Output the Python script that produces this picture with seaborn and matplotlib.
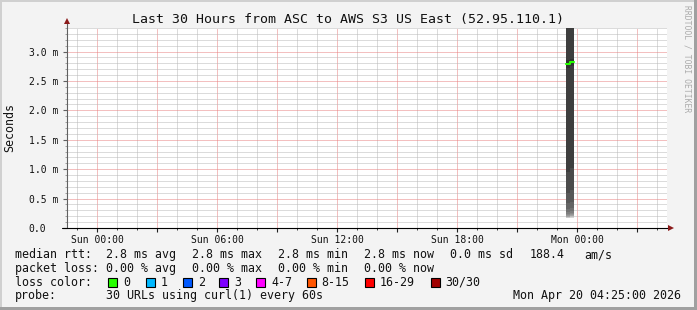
import matplotlib
matplotlib.use("Agg")
import matplotlib.pyplot as plt
import matplotlib.dates as mdates
from matplotlib.ticker import MultipleLocator, FuncFormatter
from matplotlib.patches import Rectangle
import pandas as pd
import seaborn as sns

# ---------------- data ----------------
title = "Last 30 Hours from ASC to AWS S3 US East (52.95.110.1)"
y_label = "Seconds"
watermark = "RRDTOOL / TOBI OETIKER"
x_start = "2026-04-18 22:30"
x_end = "2026-04-20 04:30"
y_max_ms = 3.4

step_starts = ["2026-04-19 23:27", "2026-04-19 23:39"]
step_minutes = 12
median_ms = [2.79, 2.82]
loss_count = [0, 0]

# sorted ping round-trip times (ms) for each consolidated step, 30 pings each
pings_step1 = [0.170, 0.172, 0.175, 0.180, 0.186, 0.195, 0.206, 0.222, 0.243, 0.272,
               0.322, 0.420, 0.600, 0.950, 2.720, 2.860, 3.900, 4.600, 5.500, 6.800,
               8.500, 11.0, 15.0, 21.0, 30.0, 45.0, 70.0, 110.0, 180.0, 300.0]
pings_step2 = [0.175, 0.178, 0.182, 0.188, 0.196, 0.206, 0.218, 0.235, 0.258, 0.290,
               0.345, 0.450, 0.640, 1.020, 2.760, 2.880, 4.100, 4.900, 5.800, 7.100,
               9.000, 12.0, 16.0, 23.0, 33.0, 50.0, 75.0, 120.0, 190.0, 320.0]

rtt_stats = [("avg", 2.8), ("max", 2.8), ("min", 2.8), ("now", 2.8)]
rtt_sd = 0.0
rtt_am_s = 188.4
loss_stats = [("avg", 0.00), ("max", 0.00), ("min", 0.00), ("now", 0.00)]
loss_labels = ["0", "1", "2", "3", "4-7", "8-15", "16-29", "30/30"]
loss_colors = ["#26ff00", "#00b8ff", "#0059ff", "#7e00ff", "#ff00ff", "#ff5500", "#ff0000", "#a10000"]
probe_text = "30 URLs using curl(1) every 60s"
stamp_text = "Mon Apr 20 04:25:00 2026"

# ---------------- figure ----------------
W, H = 697, 310
sns.set_theme(style="white")
plt.rcParams["font.family"] = ["DejaVu Sans Mono", "DejaVu Sans"]
fig = plt.figure(figsize=(W / 100, H / 100), dpi=100, facecolor="#f3f3f3")

def fx(px):
    return px / W

def fy(py):
    return 1 - py / H

ax = fig.add_axes([fx(67), fy(228), 600 / W, 200 / H])
ax.set_facecolor("white")

starts = mdates.date2num(pd.to_datetime(step_starts))
width = step_minutes / 1440.0
ends = starts + width

# smoke (SmokePing style: nested bands, darker toward the median)
pings = [pings_step1, pings_step2]
n = len(pings_step1)
half = n // 2
for k in range(1, half + 1):
    g = (190.0 / half) * (half - k) + 50
    col = "#%02x%02x%02x" % (int(g), int(g), int(g))
    lo = [p[k - 1] / 1000 for p in pings]
    hi = [p[n - k] / 1000 for p in pings]
    ax.bar(starts, [h - l for h, l in zip(hi, lo)], bottom=lo, width=width,
           align="edge", color=col, linewidth=0, zorder=2)

# median line coloured by loss
med_df = pd.DataFrame({"t": list(starts) + [ends[-1]],
                       "rtt": [m / 1000 for m in median_ms] + [median_ms[-1] / 1000]})
sns.lineplot(data=med_df, x="t", y="rtt", drawstyle="steps-post", estimator=None,
             color=loss_colors[loss_count[0]], lw=1.5, ax=ax, zorder=3)

ax.set_xlim(mdates.date2num(pd.Timestamp(x_start)), mdates.date2num(pd.Timestamp(x_end)))
ax.set_ylim(0, y_max_ms / 1000)
ax.set_xlabel("")
ax.set_ylabel("")

# y axis
ax.yaxis.set_major_locator(MultipleLocator(0.0005))
ax.yaxis.set_minor_locator(MultipleLocator(0.0001))
ax.yaxis.set_major_formatter(FuncFormatter(lambda v, p: "0.0" if abs(v) < 1e-9 else f"{v*1000:.1f} m"))
# x axis
ax.xaxis.set_major_locator(mdates.HourLocator(byhour=range(0, 24, 3)))
ax.xaxis.set_minor_locator(mdates.HourLocator())
def xfmt(v, p):
    d = mdates.num2date(v)
    return d.strftime("%a %H:%M") if d.hour % 6 == 0 else ""
ax.xaxis.set_major_formatter(FuncFormatter(xfmt))

ax.tick_params(axis="y", which="major", length=3, width=0.8, color="#606060",
               direction="out", pad=24.5, labelsize=7.05, labelcolor="#111111", left=True)
ax.tick_params(axis="y", which="minor", length=1.2, width=0.7, color="#a0a0a0", direction="out", left=True)
for lab in ax.get_yticklabels():
    lab.set_horizontalalignment("left")
ax.tick_params(axis="x", which="major", length=3, width=0.8, color="#202020",
               direction="out", pad=1.8, labelsize=7.05, labelcolor="#111111", bottom=True)
ax.tick_params(axis="x", which="minor", length=1.5, width=0.7, color="#404040", direction="out", bottom=True)

ax.set_axisbelow(True)
ax.grid(which="minor", color="#b8b8b8", lw=0.72, ls=(0, (1, 1)))
ax.grid(which="major", color="#e88080", lw=0.72, ls=(0, (1, 1)))

for s in ax.spines.values():
    s.set_visible(False)

# axis lines with arrows
ax.plot([0, 0], [0, 1.03], transform=ax.transAxes, color="#606060", lw=0.8, clip_on=False, zorder=5)
ax.plot([-0.008, 1.004], [0, 0], transform=ax.transAxes, color="black", lw=0.8, clip_on=False, zorder=5)
ax.plot([0], [1.035], transform=ax.transAxes, marker="^", ms=5, color="#8b1a1a", clip_on=False, zorder=6, mew=0)
ax.plot([1.006], [0], transform=ax.transAxes, marker=">", ms=5, color="#8b1a1a", clip_on=False, zorder=6, mew=0)

# frame of the image
fig.add_artist(Rectangle((0, fy(307)), 2 / W, 307 / H, transform=fig.transFigure, color="#d0d0d0", lw=0))
fig.add_artist(Rectangle((0, fy(2)), fx(694), 2 / H, transform=fig.transFigure, color="#d0d0d0", lw=0))
fig.add_artist(Rectangle((fx(694), 0), 3 / W, 1, transform=fig.transFigure, color="#a0a0a0", lw=0))
fig.add_artist(Rectangle((0, 0), 1, 3 / H, transform=fig.transFigure, color="#a0a0a0", lw=0))

# texts
fig.text(fx(348), fy(23.5), title, ha="center", va="baseline", fontsize=9.5, color="#111111")
fig.text(fx(10), fy(127.5), y_label, ha="center", va="center", rotation=90, fontsize=8.4, color="#111111")
fig.text(fx(687), fy(5), watermark, ha="center", va="top", rotation=270, fontsize=5.8, color="#ababab")

FS = 8.4
TC = "#111111"
cols = [107, 193, 279, 365]
b1, b2, b3, b4 = 258.3, 271.8, 285.5, 299.2
fig.text(fx(15), fy(b1), "median rtt:", fontsize=FS, color=TC, va="baseline")
for (name, val), x in zip(rtt_stats, cols):
    fig.text(fx(x - 1), fy(b1), f"{val:.1f} ms {name}", fontsize=FS, color=TC, va="baseline")
fig.text(fx(450), fy(b1), f"{rtt_sd:.1f} ms sd", fontsize=FS, color=TC, va="baseline")
fig.text(fx(530), fy(b1), f"{rtt_am_s:.1f}", fontsize=FS, color=TC, va="baseline")
fig.text(fx(584), fy(b1), "am/s", fontsize=FS, color=TC, va="baseline")

fig.text(fx(15), fy(b2), "packet loss:", fontsize=FS, color=TC, va="baseline")
for (name, val), x in zip(loss_stats, cols):
    fig.text(fx(x - 1), fy(b2), f"{val:.2f} % {name}", fontsize=FS, color=TC, va="baseline")

fig.text(fx(15), fy(b3), "loss color:", fontsize=FS, color=TC, va="baseline")
box_x = [108.3, 145.7, 182.7, 219.3, 256, 306.7, 365, 430.7]
for lab, c, bx in zip(loss_labels, loss_colors, box_x):
    fig.add_artist(Rectangle((fx(bx), fy(286.7)), 9 / W, 9 / H, transform=fig.transFigure,
                             facecolor=c, edgecolor="black", lw=0.8))
    fig.text(fx(bx + 15), fy(b3), lab, fontsize=FS, color=TC, va="baseline")

fig.text(fx(15), fy(b4), "probe:", fontsize=FS, color=TC, va="baseline")
fig.text(fx(106), fy(b4), probe_text, fontsize=FS, color=TC, va="baseline")
fig.text(fx(681), fy(b4), stamp_text, fontsize=FS, color=TC, va="baseline", ha="right")

fig.savefig("out.png", dpi=100, facecolor=fig.get_facecolor())
